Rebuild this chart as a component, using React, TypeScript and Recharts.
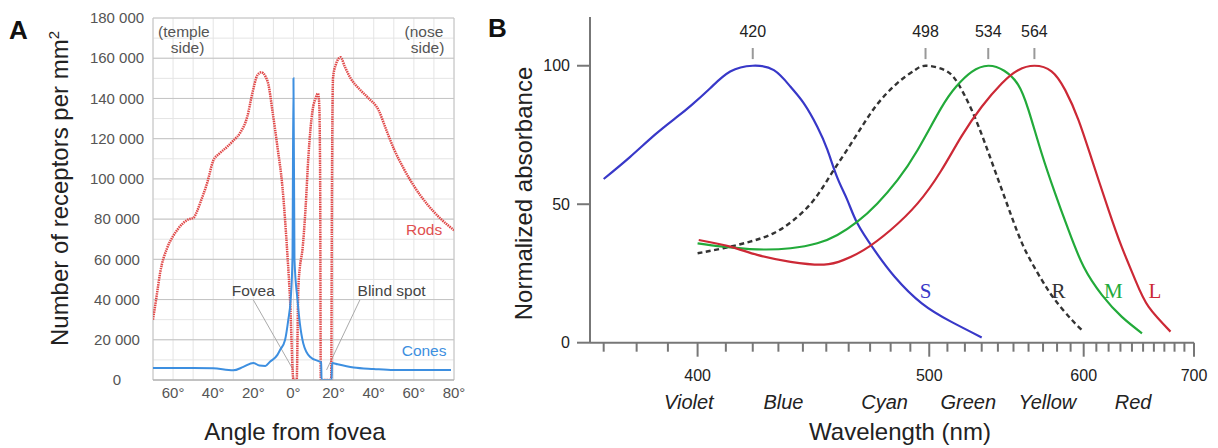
import React from 'react';
import { LineChart, Line, XAxis, YAxis, CartesianGrid, ReferenceLine, ReferenceDot } from 'recharts';

// Panel A: receptor density across the retina
const rods = [
  { angle: -70, density: 30000 }, { angle: -68, density: 43000 }, { angle: -66.5, density: 53000 },
  { angle: -63, density: 65500 }, { angle: -60, density: 71500 }, { angle: -58, density: 74500 },
  { angle: -55, density: 78000 }, { angle: -52, density: 80000 }, { angle: -50, density: 80500 },
  { angle: -48, density: 84000 }, { angle: -46.5, density: 88000 }, { angle: -43, density: 98000 },
  { angle: -40, density: 109000 }, { angle: -37, density: 112500 }, { angle: -33, density: 116000 },
  { angle: -30, density: 119000 }, { angle: -26.5, density: 123000 }, { angle: -23, density: 131000 },
  { angle: -20.5, density: 142500 }, { angle: -18, density: 151500 }, { angle: -16, density: 153000 },
  { angle: -14, density: 151000 }, { angle: -12.5, density: 147000 }, { angle: -10.5, density: 134000 },
  { angle: -8, density: 116000 }, { angle: -5.5, density: 96000 }, { angle: -3, density: 62000 },
  { angle: -1.7, density: 40000 }, { angle: 0, density: 0 }, { angle: 1.6, density: 0 },
  { angle: 2.4, density: 45000 }, { angle: 3.2, density: 56000 }, { angle: 4.5, density: 65000 },
  { angle: 6, density: 85000 }, { angle: 7.5, density: 112000 }, { angle: 9.5, density: 134000 },
  { angle: 11, density: 140000 }, { angle: 12.2, density: 142500 }, { angle: 12.8, density: 138000 },
  { angle: 13.3, density: 100000 }, { angle: 13.6, density: 0 }, { angle: 18.8, density: 0 },
  { angle: 19.2, density: 100000 }, { angle: 19.7, density: 150000 }, { angle: 21, density: 156500 },
  { angle: 23.5, density: 160500 }, { angle: 25.5, density: 156000 }, { angle: 28.5, density: 150000 },
  { angle: 33, density: 144500 }, { angle: 37, density: 140500 }, { angle: 42.5, density: 134000 },
  { angle: 46, density: 125000 }, { angle: 50, density: 115000 }, { angle: 55, density: 105000 },
  { angle: 60, density: 96500 }, { angle: 67, density: 87000 }, { angle: 73, density: 80500 },
  { angle: 80, density: 74500 },
];

const cones = [
  { angle: -70, density: 6000 }, { angle: -50, density: 6000 }, { angle: -40, density: 5800 },
  { angle: -30, density: 4800 }, { angle: -25, density: 6500 }, { angle: -20, density: 8500 },
  { angle: -17, density: 7200 }, { angle: -14, density: 7000 }, { angle: -11.7, density: 9100 },
  { angle: -8, density: 12500 }, { angle: -6.7, density: 14900 }, { angle: -4.2, density: 19900 },
  { angle: -2.6, density: 29800 }, { angle: -1.4, density: 40000 }, { angle: -0.5, density: 60000 },
  { angle: 0, density: 150000 }, { angle: 0.5, density: 60000 }, { angle: 2, density: 40000 },
  { angle: 3.2, density: 28000 }, { angle: 4.9, density: 18200 }, { angle: 8.2, density: 11600 },
  { angle: 13.2, density: 9100 }, { angle: 13.8, density: 8800 }, { angle: 14, density: 0 },
  { angle: 19, density: 0 }, { angle: 19.2, density: 8500 }, { angle: 22, density: 7800 },
  { angle: 30, density: 6200 }, { angle: 40, density: 5500 }, { angle: 50, density: 5000 },
  { angle: 60, density: 5000 }, { angle: 78.5, density: 5000 },
];

const angleTicks = [-70, -60, -50, -40, -30, -20, -10, 0, 10, 20, 30, 40, 50, 60, 70, 80];
const densityTicks = [0, 10000, 20000, 30000, 40000, 50000, 60000, 70000, 80000, 90000, 100000,
  110000, 120000, 130000, 140000, 150000, 160000, 170000, 180000];
const densityMajor = [0, 20000, 40000, 60000, 80000, 100000, 120000, 140000, 160000, 180000];

const notesA = [
  { text: '(temple', angle: -54.6, density: 173200, color: '#555' },
  { text: 'side)', angle: -52.8, density: 165100, color: '#555' },
  { text: '(nose', angle: 65, density: 173200, color: '#555' },
  { text: 'side)', angle: 66.8, density: 165100, color: '#555' },
  { text: 'Fovea', angle: -20, density: 44700, color: '#444' },
  { text: 'Blind spot', angle: 48.9, density: 44700, color: '#444' },
  { text: 'Rods', angle: 65.1, density: 74600, color: '#e05050' },
  { text: 'Cones', angle: 65.1, density: 14900, color: '#3d8fe0' },
];

const leadersA = [
  { from: [-20, 39800], to: [-0.1, 5000] },
  { from: [33.1, 39800], to: [16.5, 5000] },
];

// Panel B: pigment absorbance spectra
const pigmentS = [
  { nm: 370, v: 59.1 }, { nm: 378, v: 67.1 }, { nm: 386, v: 75.3 }, { nm: 393, v: 81.5 },
  { nm: 398, v: 85.9 }, { nm: 404.4, v: 91.9 }, { nm: 411.6, v: 97.9 }, { nm: 420, v: 100 },
  { nm: 428.2, v: 98.4 }, { nm: 434.9, v: 92.4 }, { nm: 440.4, v: 86.4 }, { nm: 446.1, v: 78 },
  { nm: 450.5, v: 69.6 }, { nm: 454.9, v: 59.5 }, { nm: 459.4, v: 51.5 }, { nm: 464, v: 43.1 },
  { nm: 472, v: 33.5 }, { nm: 482, v: 23.8 }, { nm: 496, v: 14.2 }, { nm: 512, v: 7.6 },
  { nm: 530, v: 1.9 },
];
const pigmentR = [
  { nm: 400, v: 32.3 }, { nm: 409, v: 34.1 }, { nm: 419, v: 36.5 }, { nm: 428, v: 39.5 },
  { nm: 436.2, v: 44.3 }, { nm: 444.6, v: 51.5 }, { nm: 451.9, v: 60.6 }, { nm: 459.4, v: 69.8 },
  { nm: 467.1, v: 79.2 }, { nm: 475.1, v: 87.6 }, { nm: 485.1, v: 94.8 }, { nm: 492.3, v: 98.4 },
  { nm: 498, v: 100 }, { nm: 508.6, v: 98.4 }, { nm: 516, v: 93.6 }, { nm: 524, v: 84 },
  { nm: 532, v: 72 }, { nm: 540.3, v: 58.7 }, { nm: 548.8, v: 45.5 }, { nm: 557.7, v: 33.5 },
  { nm: 569.2, v: 22.6 }, { nm: 578.6, v: 15.4 }, { nm: 591, v: 8.2 }, { nm: 600, v: 4 },
];
const pigmentM = [
  { nm: 400, v: 35.9 }, { nm: 409, v: 34.7 }, { nm: 421.7, v: 33.7 }, { nm: 434.9, v: 34.1 },
  { nm: 446.1, v: 35.9 }, { nm: 454.9, v: 38.9 }, { nm: 464, v: 43.7 }, { nm: 473.5, v: 50.3 },
  { nm: 483.4, v: 58.7 }, { nm: 493.8, v: 69.6 }, { nm: 506.4, v: 84.6 }, { nm: 515, v: 92.5 },
  { nm: 524, v: 97.8 }, { nm: 534, v: 100 }, { nm: 544, v: 98.2 }, { nm: 553, v: 93.2 },
  { nm: 560, v: 84 }, { nm: 569, v: 68.4 }, { nm: 578.6, v: 53.9 }, { nm: 588.4, v: 40.7 },
  { nm: 600, v: 27.4 }, { nm: 614.6, v: 17.2 }, { nm: 631, v: 9.4 }, { nm: 649, v: 3.4 },
];
const pigmentL = [
  { nm: 400.4, v: 37.1 }, { nm: 411.6, v: 34.7 }, { nm: 421.7, v: 31.7 }, { nm: 434.9, v: 29.2 },
  { nm: 449, v: 28.2 }, { nm: 457.8, v: 29.9 }, { nm: 467.1, v: 33.5 }, { nm: 480, v: 40.7 },
  { nm: 493.8, v: 50.3 }, { nm: 506.4, v: 62 }, { nm: 518, v: 74.5 }, { nm: 530, v: 85.2 },
  { nm: 542.4, v: 93.6 }, { nm: 553, v: 98.4 }, { nm: 564, v: 100 }, { nm: 576, v: 98 },
  { nm: 586, v: 91.2 }, { nm: 596, v: 80.4 }, { nm: 606.5, v: 66 }, { nm: 620, v: 47.9 },
  { nm: 631, v: 34.7 }, { nm: 643, v: 22.6 }, { nm: 655, v: 13 }, { nm: 676, v: 4 },
];

const peakNm = [420, 498, 534, 564];
const curveLetters = [
  { text: 'S', nm: 498, v: 18.8, color: '#3838c8' },
  { text: 'R', nm: 581, v: 18.8, color: '#333' },
  { text: 'M', nm: 624, v: 18.8, color: '#22aa3a' },
  { text: 'L', nm: 661, v: 18.8, color: '#cc2936' },
];
const wavelengthTicks = [370, 380, 390, 400, 410, 420, 430, 440, 450, 460, 470, 480, 490, 500,
  510, 520, 530, 540, 550, 560, 570, 580, 590, 600, 610, 620, 630, 640, 650, 660, 670, 680, 690, 700];
const colorBands = [
  { label: 'Violet', nm: 397 }, { label: 'Blue', nm: 432 }, { label: 'Cyan', nm: 477 },
  { label: 'Green', nm: 522 }, { label: 'Yellow', nm: 573 }, { label: 'Red', nm: 641 },
];

// wavenumber-like coordinate so the axis is linear in 1/λ
const inv = (nm: number) => -1000 / nm;

const DensityTick = ({ x, y, payload }: any) => {
  const v = payload.value;
  if (v % 20000 !== 0) return <g />;
  return (
    <text x={x - 36} y={y} dy="0.35em" textAnchor="middle" fontSize={15} fill="#555">
      {v === 0 ? '0' : `${v / 1000} 000`}
    </text>
  );
};

const AngleTick = ({ x, y, payload }: any) => {
  const v = payload.value;
  if (v % 20 !== 0) return <g />;
  return (
    <text x={x} y={y + 13} dy="0.35em" textAnchor="middle" fontSize={15} fill="#555">
      {`${Math.abs(v)}°`}
    </text>
  );
};

const WaveTick = ({ x, y, payload }: any) => {
  const nm = Math.round(-1000 / payload.value);
  const band = colorBands.find((c) => c.nm === nm);
  if (band) {
    return (
      <text x={x} y={y + 59} dy="0.35em" textAnchor="middle" fontSize={20} fontStyle="italic" fill="#222">
        {band.label}
      </text>
    );
  }
  const major = nm % 100 === 0;
  return (
    <g>
      <line x1={x} x2={x} y1={y} y2={y + (major ? 14 : 9)} stroke="#777" strokeWidth={2} />
      {major && (
        <text x={x} y={y + 33} dy="0.35em" textAnchor="middle" fontSize={16} fill="#222">
          {nm}
        </text>
      )}
    </g>
  );
};

export default function App() {
  return (
    <div style={{ position: 'absolute', left: 0, top: 0, width: 1218, height: 448, background: '#fff', fontFamily: '"Liberation Sans", Arial, sans-serif' }}>
      <div style={{ position: 'absolute', left: 0, top: 0 }}>
        <LineChart width={490} height={448} margin={{ top: 18, right: 36, bottom: 0, left: 0 }}>
          <CartesianGrid stroke="#e4e4e4" />
          <CartesianGrid stroke="#c4c4c4" horizontalValues={densityMajor} verticalValues={[-70, 80]} />
          <XAxis type="number" dataKey="angle" domain={[-70, 80]} ticks={angleTicks} allowDataOverflow
            interval={0} height={68} tickSize={0} tickMargin={0} tickLine={false}
            axisLine={{ stroke: '#aaa' }} tick={<AngleTick />} />
          <YAxis type="number" domain={[0, 180000]} ticks={densityTicks} allowDataOverflow interval={0}
            width={153} tickSize={0} tickMargin={0} tickLine={false} axisLine={false} tick={<DensityTick />} />
          {leadersA.map((l, i) => (
            <ReferenceLine key={i} segment={[{ x: l.from[0], y: l.from[1] }, { x: l.to[0], y: l.to[1] }]}
              stroke="#aaa" strokeWidth={1} />
          ))}
          <Line data={rods} dataKey="density" type="monotone" stroke="#e04848" strokeWidth={2.5}
            strokeDasharray="1.5 0.8" dot={false} isAnimationActive={false} />
          <Line data={cones} dataKey="density" type="monotone" stroke="#3d8fe0" strokeWidth={2}
            dot={false} isAnimationActive={false} />
          {notesA.map((n, i) => (
            <ReferenceDot key={i} x={n.angle} y={n.density} r={0} fill="none" stroke="none"
              label={{ value: n.text, position: 'center', fill: n.color, fontSize: 15.5 }} />
          ))}
        </LineChart>
      </div>

      <div style={{ position: 'absolute', left: 490, top: 0 }}>
        <LineChart width={728} height={448} margin={{ top: 17, right: 24, bottom: 0, left: 0 }}>
          <XAxis type="number" dataKey={(d: any) => inv(d.nm)} domain={[inv(366), inv(700)]} allowDataOverflow
            ticks={[...wavelengthTicks, ...colorBands.map((c) => c.nm)].map(inv)} interval={0}
            height={105.3} tickSize={0} tickMargin={0} tickLine={false}
            axisLine={{ stroke: '#777', strokeWidth: 2 }} tick={<WaveTick />} />
          <YAxis type="number" domain={[0, 117.6]} ticks={[0, 50, 100]} allowDataOverflow width={100}
            tickSize={13} tickMargin={7} axisLine={{ stroke: '#777', strokeWidth: 2 }}
            tickLine={{ stroke: '#777', strokeWidth: 2 }} tick={{ fill: '#222', fontSize: 16 }} />
          {peakNm.map((nm) => (
            <ReferenceLine key={nm} segment={[{ x: inv(nm), y: 102.4 }, { x: inv(nm), y: 106.4 }]}
              stroke="#999" strokeWidth={2}
              label={{ value: String(nm), position: 'top', offset: 11, fill: '#222', fontSize: 16 }} />
          ))}
          <Line data={pigmentS} dataKey="v" type="natural" stroke="#3838c8" strokeWidth={2.2}
            dot={false} isAnimationActive={false} />
          <Line data={pigmentR} dataKey="v" type="natural" stroke="#333" strokeWidth={2.4}
            strokeDasharray="5 3.5" dot={false} isAnimationActive={false} />
          <Line data={pigmentM} dataKey="v" type="natural" stroke="#22aa3a" strokeWidth={2.2}
            dot={false} isAnimationActive={false} />
          <Line data={pigmentL} dataKey="v" type="natural" stroke="#cc2936" strokeWidth={2.2}
            dot={false} isAnimationActive={false} />
          {curveLetters.map((c) => (
            <ReferenceDot key={c.text} x={inv(c.nm)} y={c.v} r={0} fill="none" stroke="none"
              label={{ value: c.text, position: 'center', fill: c.color, fontSize: 21, fontFamily: '"Liberation Serif", serif' }} />
          ))}
        </LineChart>
      </div>

      <svg width={1218} height={448} style={{ position: 'absolute', left: 0, top: 0, pointerEvents: 'none' }}>
        <text x={9} y={38.5} fontSize={26} fontWeight="bold" fill="#111">A</text>
        <text x={488} y={37} fontSize={26} fontWeight="bold" fill="#111">B</text>
        <text transform="translate(67.5,188.5) rotate(-90)" textAnchor="middle" fontSize={24} fill="#222">
          Number of receptors per mm<tspan dy={-9} fontSize={15}>2</tspan>
        </text>
        <text x={295} y={440} textAnchor="middle" fontSize={24} fill="#222">Angle from fovea</text>
        <text transform="translate(531.5,193.5) rotate(-90)" textAnchor="middle" fontSize={24} fill="#222">
          Normalized absorbance
        </text>
        <text x={900} y={440} textAnchor="middle" fontSize={24} fill="#222">Wavelength (nm)</text>
      </svg>
    </div>
  );
}
